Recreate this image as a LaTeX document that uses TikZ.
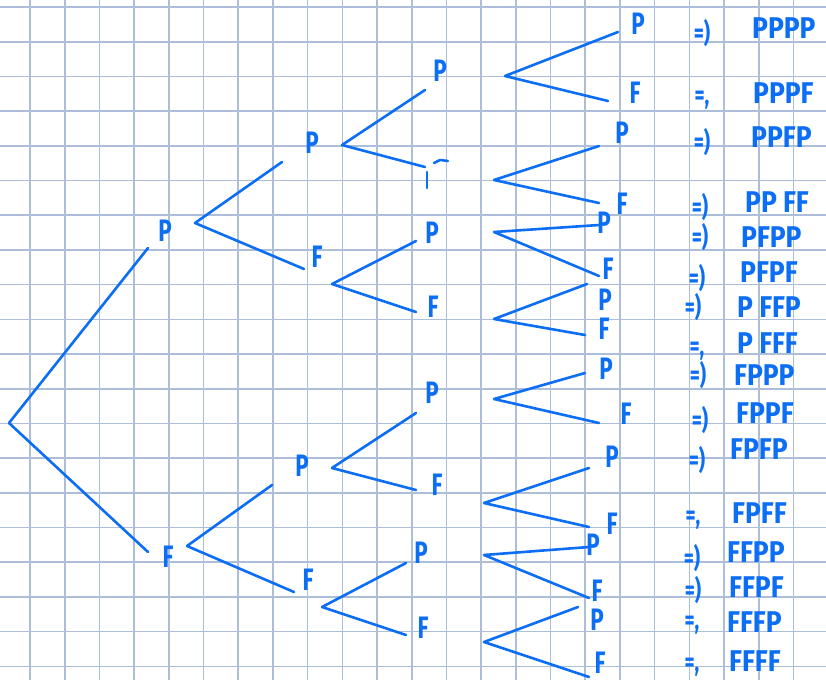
\documentclass[tikz,border=0pt]{standalone}
\usepackage{fontspec}
\newfontfamily\hand[FakeStretch=0.72]{Fira Sans}
\newfontfamily\handw[FakeStretch=0.88]{Fira Sans}
\definecolor{ink}{RGB}{12,110,245}
\definecolor{gridc}{RGB}{172,190,218}
\begin{document}
\begin{tikzpicture}[x=1pt,y=-1pt,
 gridline/.style={draw=gridc,line width=1.6pt},
 pen/.style={draw=ink,line width=2.6pt,line cap=round,line join=round},
 lbl/.style={text=ink,font=\hand\bfseries\fontsize{31}{31}\selectfont,inner sep=0pt},
 res/.style={text=ink,font=\handw\bfseries\fontsize{30}{30}\selectfont,inner sep=0pt,anchor=west},
 impl/.style={text=ink,font=\hand\bfseries\fontsize{27}{27}\selectfont,inner sep=0pt}]
\useasboundingbox (0,0) rectangle (826,680);
\fill[white] (0,0) rectangle (826,680);
\foreach \i in {0,...,22} \draw[gridline] ({30+34.7*\i},0) -- ({30+34.7*\i},680);
\foreach \j in {0,...,19} \draw[gridline] (0,{7+34.7*\j}) -- (826,{7+34.7*\j});

% ---- coordinates of branch points and ends
\coordinate (root) at (9,423);
\coordinate (rU) at (148,248);
\coordinate (rD) at (148,552);
% level 1
\coordinate (vP) at (195,223);
\coordinate (vPU) at (282,162);
\coordinate (vPD) at (304,269);
\coordinate (vF) at (187,546);
\coordinate (vFU) at (272,485);
\coordinate (vFD) at (294,592);
% level 2
\coordinate (vPP) at (342,145);
\coordinate (vPPU) at (425,90);
\coordinate (vPPD) at (425,167);
\coordinate (vPF) at (332,284);
\coordinate (vPFU) at (416,241);
\coordinate (vPFD) at (416,312);
\coordinate (vFP) at (332,468);
\coordinate (vFPU) at (416,413);
\coordinate (vFPD) at (416,490);
\coordinate (vFF) at (322,607);
\coordinate (vFFU) at (406,563);
\coordinate (vFFD) at (406,635);
% level 3
\coordinate (w1) at (505,76);  \coordinate (w1U) at (618,32);  \coordinate (w1D) at (608,101);
\coordinate (w2) at (494,180); \coordinate (w2U) at (599,146); \coordinate (w2D) at (599,203);
\coordinate (w3) at (494,232); \coordinate (w3U) at (599,225); \coordinate (w3D) at (599,276);
\coordinate (w4) at (494,319); \coordinate (w4U) at (587,284); \coordinate (w4D) at (585,335);
\coordinate (w5) at (494,399); \coordinate (w5U) at (585,373); \coordinate (w5D) at (599,423);
\coordinate (w6) at (484,503); \coordinate (w6U) at (589,468); \coordinate (w6D) at (589,527);
\coordinate (w7) at (484,555); \coordinate (w7U) at (589,547); \coordinate (w7D) at (589,598);
\coordinate (w8) at (484,642); \coordinate (w8U) at (578,607); \coordinate (w8D) at (589,677);

% ---- branches
\draw[pen] (rU) -- (root) -- (rD);
\draw[pen] (vPU) -- (vP) -- (vPD);
\draw[pen] (vFU) -- (vF) -- (vFD);
\draw[pen] (vPPU) -- (vPP) -- (vPPD);
\draw[pen] (vPFU) -- (vPF) -- (vPFD);
\draw[pen] (vFPU) -- (vFP) -- (vFPD);
\draw[pen] (vFFU) -- (vFF) -- (vFFD);
\foreach \k in {1,...,8} \draw[pen] (w\k U) -- (w\k) -- (w\k D);

% ---- labels
\node[lbl] (nP) at (165,231) {P};
\node[lbl] (nF) at (168,557) {F};
\node[lbl] (nPP) at (312,143) {P};
\node[lbl] (nPF) at (317,257) {F};
\node[lbl] (nFP) at (302,466) {P};
\node[lbl] (nFF) at (308,580) {F};
\node[lbl] (nPPP) at (440,71) {P};
\coordinate (nPPF) at (430,175);
\draw[pen,line width=2.5pt] ([shift={(-3,-3)}]nPPF) -- ([shift={(-3,13)}]nPPF);
\draw[pen,line width=2.5pt] ([shift={(4,-12)}]nPPF) -- ([shift={(10,-15)}]nPPF) -- ([shift={(18,-14)}]nPPF);
\node[lbl] (nPFP) at (432,233) {P};
\node[lbl] (nPFF) at (433,307) {F};
\node[lbl] (nFPP) at (432,393) {P};
\node[lbl] (nFPF) at (437,485) {F};
\node[lbl] (nFFP) at (421,553) {P};
\node[lbl] (nFFF) at (423,628) {F};

\node[lbl] (t1a) at (638,24) {P};  \node[lbl] (t1b) at (635,93) {F};
\node[lbl] (t2a) at (622,133) {P}; \node[lbl] (t2b) at (622,204) {F};
\node[lbl] (t3a) at (604,223) {P}; \node[lbl] (t3b) at (608,269) {F};
\node[lbl] (t4a) at (605,300) {P}; \node[lbl] (t4b) at (604,329) {F};
\node[lbl] (t5a) at (606,369) {P}; \node[lbl] (t5b) at (626,414) {F};
\node[lbl] (t6a) at (612,457) {P}; \node[lbl] (t6b) at (612,524) {F};
\node[lbl] (t7a) at (593,545) {P}; \node[lbl] (t7b) at (597,591) {F};
\node[lbl] (t8a) at (597,620) {P}; \node[lbl] (t8b) at (600,663) {F};

% ---- implications
\node[impl] (i1) at (702,33) {=)};
\node[impl] (i2) at (702,100) {=,};
\node[impl] (i3) at (702,142) {=)};
\node[impl] (i4) at (700,207) {=)};
\node[impl] (i5) at (700,237) {=)};
\node[impl] (i6) at (697,278) {=)};
\node[impl] (i7) at (693,307) {=)};
\node[impl] (i8) at (697,351) {=,};
\node[impl] (i9) at (698,375) {=)};
\node[impl] (i10) at (700,420) {=)};
\node[impl] (i11) at (697,460) {=)};
\node[impl] (i12) at (693,520) {=,};
\node[impl] (i13) at (692,558) {=)};
\node[impl] (i14) at (693,590) {=)};
\node[impl] (i15) at (692,625) {=,};
\node[impl] (i16) at (692,667) {=,};

% ---- results
\node[res] (r1) at (752,28) {PPPP};
\node[res] (r2) at (753,93) {PPPF};
\node[res] (r3) at (751,137) {PPFP};
\node[res] (r4) at (745,202) {PP FF};
\node[res] (r5) at (741,237) {PFPP};
\node[res] (r6) at (740,272) {PFPF};
\node[res] (r7) at (737,307) {P FFP};
\node[res] (r8) at (737,343) {P FFF};
\node[res] (r9) at (734,375) {FPPP};
\node[res] (r10) at (736,413) {FPPF};
\node[res] (r11) at (730,449) {FPFP};
\node[res] (r12) at (732,513) {FPFF};
\node[res] (r13) at (727,552) {FFPP};
\node[res] (r14) at (729,587) {FFPF};
\node[res] (r15) at (727,622) {FFFP};
\node[res] (r16) at (729,661) {FFFF};
\end{tikzpicture}
\end{document}
